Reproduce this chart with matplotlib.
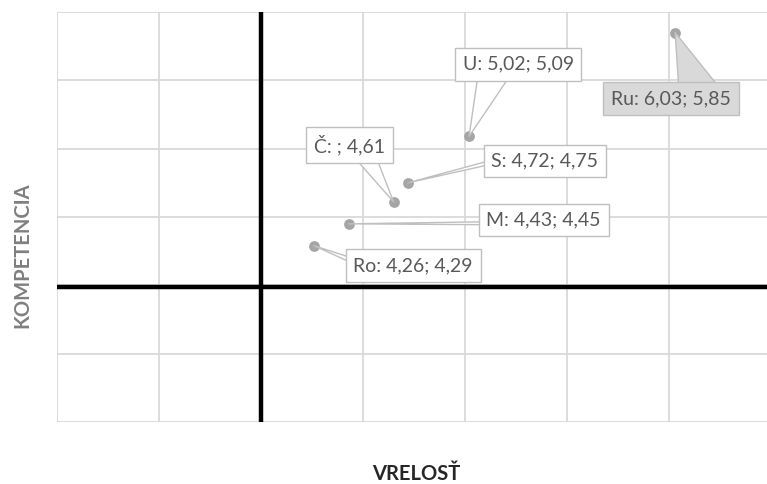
import matplotlib.pyplot as plt

# =========================================================
# DATA
# =========================================================
names = ["U", "Ru", "Č", "S", "M", "Ro"]
vrelost = [5.02, 6.03, 4.65, 4.72, 4.43, 4.26]
kompetencia = [5.09, 5.85, 4.61, 4.75, 4.45, 4.29]
labels = ["U: 5,02; 5,09", "Ru: 6,03; 5,85", "Č: ; 4,61",
          "S: 4,72; 4,75", "M: 4,43; 4,45", "Ro: 4,26; 4,29"]

# label centre offsets from the point, in pixels (x right, y up)
offsets = [(49, 72), (-4, -66), (-44, 57), (137, 22), (195, 4), (99, -20)]
# where the callout leaves the box (relative to the box) and its width
anchor = [(0.28, 0.0), (0.72, 1.0), (0.72, 0.0), (0.0, 0.42), (0.0, 0.3), (0.0, 0.78)]
tails = [1.6, 2.0, 1.0, 0.2, 0.15, 0.25]
highlight = "Ru"

# =========================================================
# PLOT
# =========================================================
plt.rcParams["font.family"] = ["Lato", "DejaVu Sans"]

fig = plt.figure(figsize=(7.67, 4.84), dpi=100)
ax = fig.add_axes([57 / 767, 1 - 422 / 484, (771 - 57) / 767, 410 / 484])

ax.set_xlim(3, 6.5)
ax.set_ylim(3, 6)
ax.set_xticks([3 + 0.5 * i for i in range(8)])
ax.set_yticks([3 + 0.5 * i for i in range(7)])
ax.tick_params(length=0, labelbottom=False, labelleft=False)
ax.grid(True, color="#d9d9d9", linewidth=1.3)
for s in ax.spines.values():
    s.set_visible(False)
ax.set_axisbelow(True)

ax.axvline(4, color="black", linewidth=3.2, zorder=2)
ax.axhline(3.99, color="black", linewidth=3.2, zorder=2)

ax.scatter(vrelost, kompetencia, s=60, color="#a5a5a5", zorder=4, linewidths=0)

for name, x, y, lab, off, rp, tw in zip(names, vrelost, kompetencia, labels,
                                         offsets, anchor, tails):
    fc = "#d9d9d9" if name == highlight else "white"
    ec = "#bfbfbf"
    ax.annotate(
        lab, xy=(x, y), xytext=off, textcoords="offset pixels",
        ha="center", va="center", fontsize=14, color="#595959", zorder=5,
        bbox=dict(boxstyle="square,pad=0.4", fc=fc, ec=ec, lw=1),
        arrowprops=dict(arrowstyle=f"wedge,tail_width={tw}", fc=fc, ec=ec,
                        lw=1, shrinkA=0, shrinkB=0, relpos=rp, patchA=None),
    )

fig.text(22 / 767, 1 - 255 / 484, "KOMPETENCIA", rotation=90, ha="center",
         va="center", fontsize=14.5, fontweight="bold", color="#7f7f7f")
fig.text(416 / 767, 1 - 474 / 484, "VRELOSŤ", ha="center", va="center",
         fontsize=14.5, fontweight="bold", color="#262626")

fig.savefig("out.png", dpi=100)
